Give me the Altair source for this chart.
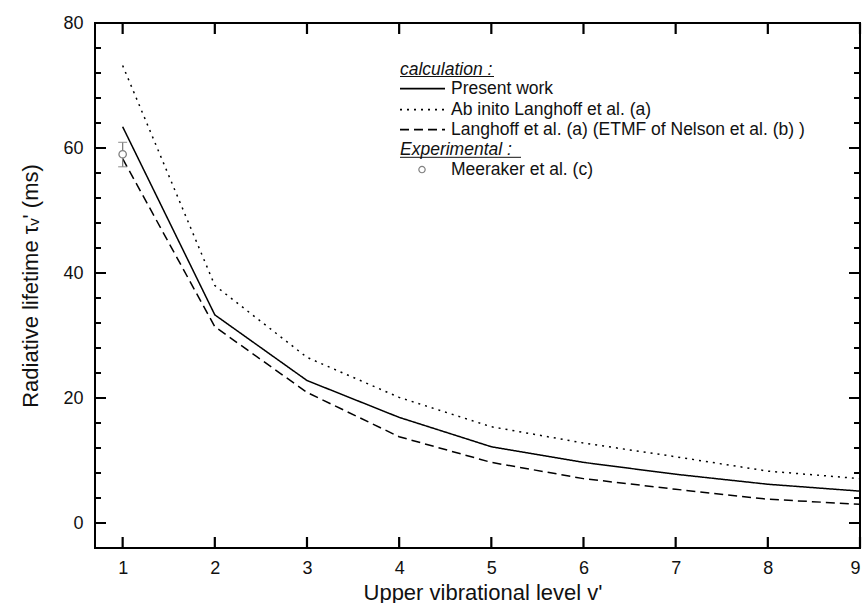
import altair as alt
import pandas as pd

# ---------------- data ----------------
levels = [1, 2, 3, 4, 5, 6, 7, 8, 9]
present_work = [63.4, 33.3, 22.8, 16.9, 12.2, 9.7, 7.8, 6.2, 5.1]
ab_initio = [73.2, 38.0, 26.5, 20.1, 15.4, 12.8, 10.6, 8.3, 7.1]
langhoff_etmf = [58.3, 31.4, 20.9, 13.8, 9.7, 7.1, 5.4, 3.8, 3.0]
series_names = [
    "Present work",
    "Ab inito Langhoff et al. (a)",
    "Langhoff et al. (a) (ETMF of Nelson et al. (b) )",
]
series_style = ["solid", "dot", "dash"]
style_names = ["solid", "dot", "dash"]
style_dash = [[1, 0], [2, 5], [9, 5]]

exp_level = [1]
exp_value = [59.0]
exp_low = [57.0]
exp_high = [60.9]
exp_name = "Meeraker et al. (c)"

x_ticks = [1, 2, 3, 4, 5, 6, 7, 8, 9]
y_major = [0, 20, 40, 60, 80]
y_minor = [4, 8, 12, 16, 24, 28, 32, 36, 44, 48, 52, 56, 64, 68, 72, 76]

legend_head_calc = "calculation :"
legend_head_exp = "Experimental :"

FONT = "Liberation Sans"
W, H = 765, 525
X_DOM = [0.7, 9.0]
Y_DOM = [-4, 80]
XPX = W / (X_DOM[1] - X_DOM[0])   # pixels per x unit
YPX = H / (Y_DOM[1] - Y_DOM[0])   # pixels per y unit
MAJ, MINR = 11, 6                  # inward tick lengths (px)

# ---------------- tables ----------------
rows = []
for name, style, vals in zip(series_names, series_style, [present_work, ab_initio, langhoff_etmf]):
    for i, (v, t) in enumerate(zip(levels, vals)):
        rows.append({"v": v, "tau": t, "seg": name, "style": style, "kind": "curve", "o": i})

# inward frame ticks, each a two-point segment in data units
k = 0
for v in x_ticks:
    for y0, y1 in [(Y_DOM[0], Y_DOM[0] + MAJ / YPX), (Y_DOM[1], Y_DOM[1] - MAJ / YPX)]:
        rows.append({"v": v, "tau": y0, "seg": f"t{k}", "style": "solid", "kind": "tick", "o": 0})
        rows.append({"v": v, "tau": y1, "seg": f"t{k}", "style": "solid", "kind": "tick", "o": 1})
        k += 1
for vals, ln in [(y_major, MAJ), (y_minor, MINR)]:
    for t in vals:
        for x0, x1 in [(X_DOM[0], X_DOM[0] + ln / XPX), (X_DOM[1], X_DOM[1] - ln / XPX)]:
            rows.append({"v": x0, "tau": t, "seg": f"t{k}", "style": "solid", "kind": "tick", "o": 0})
            rows.append({"v": x1, "tau": t, "seg": f"t{k}", "style": "solid", "kind": "tick", "o": 1})
            k += 1
lines_df = pd.DataFrame(rows)
exp_df = pd.DataFrame({"v": exp_level, "tau": exp_value, "lo": exp_low, "hi": exp_high})

xscale = alt.Scale(domain=X_DOM, nice=False, zero=False)
yscale = alt.Scale(domain=Y_DOM, nice=False, zero=False)
XTITLE = "Upper vibrational level v'"
YTITLE = "Radiative lifetime τᵥ' (ms)"
xaxis = alt.Axis(
    values=x_ticks, ticks=False, tickSize=0, domain=False, grid=False,
    labelFontSize=18, labelPadding=20, labelBaseline="middle", labelColor="#111",
    title=XTITLE, titleFontSize=22, titleFontWeight="normal",
    titleX=W / 2 + 5, titleY=44, titleBaseline="middle", titleAlign="center", titleColor="#111",
)
yaxis = alt.Axis(
    values=y_major, ticks=False, tickSize=0, domain=False, grid=False,
    labelFontSize=18, labelPadding=12, labelColor="#111",
    title=YTITLE, titleFontSize=22, titleFontWeight="normal",
    titleX=-65, titleY=H / 2, titleBaseline="middle", titleAlign="center", titleAngle=270,
    titleColor="#111",
)


def X(field="v"):
    return alt.X(f"{field}:Q", scale=xscale, axis=xaxis, title=XTITLE)


def Y(field="tau"):
    return alt.Y(f"{field}:Q", scale=yscale, axis=yaxis, title=YTITLE)


layers = []

# curves + frame ticks
layers.append(
    alt.Chart(lines_df).mark_line(color="black").encode(
        x=X(), y=Y(),
        strokeDash=alt.StrokeDash("style:N", scale=alt.Scale(domain=style_names, range=style_dash), legend=None),
        strokeWidth=alt.StrokeWidth("kind:N", scale=alt.Scale(domain=["curve", "tick"], range=[1.5, 2.2]), legend=None),
        detail="seg:N",
        order="o:Q",
    )
)

# experimental point with error bar
layers.append(
    alt.Chart(exp_df).mark_rule(color="#808080", strokeWidth=1.3).encode(x=X(), y=Y("lo"), y2="hi:Q")
)
for f in ["lo", "hi"]:
    layers.append(
        alt.Chart(exp_df).mark_tick(color="#808080", orient="horizontal", size=9, thickness=1.3).encode(
            x=X(), y=Y(f))
    )
layers.append(
    alt.Chart(exp_df).mark_point(shape="circle", filled=True, fill="white", stroke="#808080",
                                  strokeWidth=1.3, size=55, opacity=1).encode(x=X(), y=Y())
)

# legend (drawn inside the plot)
LX0, LX1, TX = 305, 350, 356
row_y = [65.6, 86.6, 106.6]
head_calc_y, head_exp_y, exp_row_y = 46.5, 127.3, 146.6


def text_layer(label, x, y, italic=False):
    return alt.Chart(pd.DataFrame({"label": [label]})).mark_text(
        align="left", baseline="middle", font=FONT, fontSize=17.5, color="#111",
        fontStyle="italic" if italic else "normal",
    ).encode(x=alt.value(x), y=alt.value(y), text="label:N")


layers.append(text_layer(legend_head_calc, LX0, head_calc_y, italic=True))
layers.append(alt.Chart(pd.DataFrame({"label": [legend_head_calc]})).mark_rule(color="#111", strokeWidth=1).encode(
    x=alt.value(LX0), x2=alt.value(LX0 + 94), y=alt.value(head_calc_y + 7)))
for name, style, ry in zip(series_names, series_style, row_y):
    dash = style_dash[style_names.index(style)]
    layers.append(alt.Chart(pd.DataFrame({"label": [name]})).mark_rule(
        color="black", strokeWidth=1.6, strokeDash=dash).encode(
        x=alt.value(LX0), x2=alt.value(LX1), y=alt.value(ry)))
    layers.append(text_layer(name, TX, ry))
layers.append(text_layer(legend_head_exp, LX0, head_exp_y, italic=True))
layers.append(alt.Chart(pd.DataFrame({"label": [legend_head_exp]})).mark_rule(color="#111", strokeWidth=1).encode(
    x=alt.value(LX0), x2=alt.value(LX0 + 121), y=alt.value(head_exp_y + 7)))
layers.append(alt.Chart(pd.DataFrame({"label": [exp_name]})).mark_point(
    shape="circle", stroke="#808080", strokeWidth=1.2, size=40, fill="white", filled=True, opacity=1).encode(
    x=alt.value(327), y=alt.value(exp_row_y)))
layers.append(text_layer(exp_name, TX, exp_row_y))

chart = alt.layer(*layers).properties(
    width=W, height=H,
    padding={"left": 95, "top": 23, "right": 6, "bottom": 55},
    autosize=alt.AutoSizeParams(type="none"),
    background="white",
).configure_view(stroke="black", strokeWidth=2).configure_axis(
    labelFont=FONT, titleFont=FONT
)

chart.save("out.html", embed_options={"renderer": "svg", "actions": False})
